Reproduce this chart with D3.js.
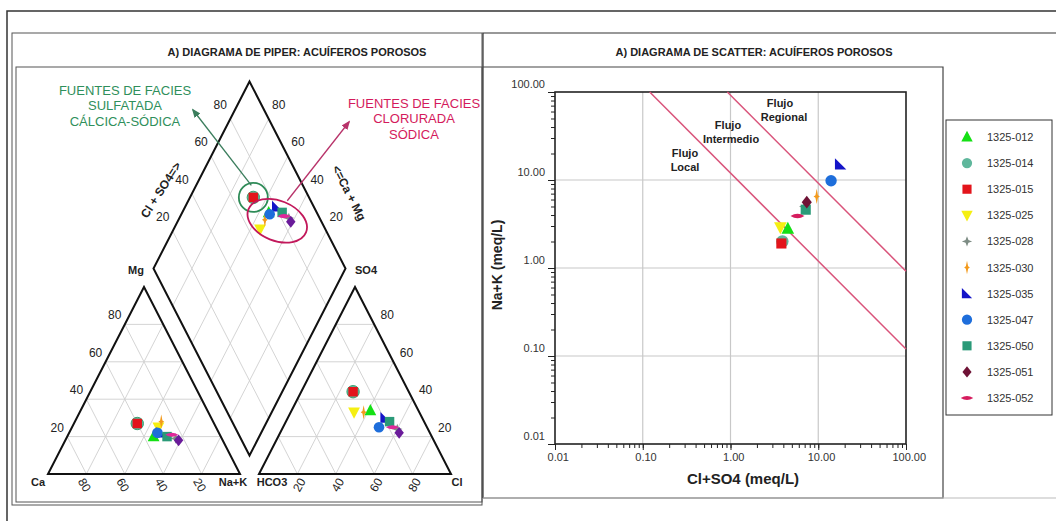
<!DOCTYPE html>
<html>
<head>
<meta charset="utf-8">
<script src="https://cdn.jsdelivr.net/npm/d3@7"></script>
<style>
  body { margin:0; background:#fff; }
  svg { display:block; font-family: Arial, "Liberation Sans", sans-serif; }
</style>
</head>
<body>
<div id="canvas"></div>
<script>
// samples, legend order
var samples = ["1325-012","1325-014","1325-015","1325-025","1325-028","1325-030",
               "1325-035","1325-047","1325-050","1325-051","1325-052"];

// cations (% meq)
var ca  = [35,40,40,30,24,27,30,32,28,23,25];
var mg  = [20,27,27,25,19,28,22,22,20,18,21];
var nak = [45,33,33,45,57,45,48,46,52,59,54];
// anions (% meq)
var hco3 = [25,29,29,34,16,29,19,25,18,16,18];
var so4  = [34,44,44,33,24,33,30,25,28,22,25];
var cl   = [41,27,27,33,60,38,51,50,54,62,57];

// scatter (meq/L)
var clSo4  = [4.5,3.9,3.8,3.7,7.0,9.6,18,14,7.2,7.4,5.8];
var naKmeq = [2.8,2.0,1.9,2.9,5.0,6.5,15,9.8,4.6,5.6,3.9];

var pctTicks = [20,40,60,80];
var logTicks = [0.01,0.1,1,10,100];
// flow lines, end points in meq/L
var localLine    = [[0.12,100],[100,0.12]];
var regionalLine = [[0.92,100],[100,0.92]];

// styles
var colors = ["#14e014","#5fb79c","#e3141b","#f5ef12","#7d8c84","#f39a1c",
              "#1414c8","#1e6edb","#2a9a78","#6e1235","#d61c5e"];
var piperColors = colors.slice();
piperColors[9] = "#6a1b9a"; piperColors[10] = "#e0289a";
var shapeOf = ["triUp","circle","square","triDown","star","spindle",
               "rightTri","circle","square","diamond","lens"];

function shape(fn){ return {draw: function(c, size){ fn(c, Math.sqrt(size)/2); }}; }
function poly(pts){
  return shape(function(c, r){
    pts.forEach(function(p, i){ i ? c.lineTo(p[0]*r, p[1]*r) : c.moveTo(p[0]*r, p[1]*r); });
    c.closePath();
  });
}
var symbols = {
  triUp:    poly([[0,-1.1],[1,0.8],[-1,0.8]]),
  triDown:  poly([[-1,-0.8],[1,-0.8],[0,1.1]]),
  square:   poly([[-0.8,-0.8],[0.8,-0.8],[0.8,0.8],[-0.8,0.8]]),
  diamond:  poly([[0,-1],[0.8,0],[0,1],[-0.8,0]]),
  rightTri: poly([[-0.9,-1],[0.9,0.8],[-0.9,0.8]]),
  star:     poly([[0,-0.9],[0.25,-0.25],[0.9,0],[0.25,0.25],[0,0.9],[-0.25,0.25],[-0.9,0],[-0.25,-0.25]]),
  spindle:  poly([[0,-1.2],[0.2,-0.2],[0.5,0],[0.2,0.2],[0,1.2],[-0.2,0.2],[-0.5,0],[-0.2,-0.2]]),
  circle:   shape(function(c, r){ c.moveTo(r*0.9,0); c.arc(0,0,r*0.9,0,2*Math.PI); }),
  lens:     shape(function(c, r){ c.moveTo(-r*1.1,0); c.quadraticCurveTo(0,-r*0.7,r*1.1,0);
                                  c.quadraticCurveTo(0,r*0.7,-r*1.1,0); c.closePath(); })
};
function sym(i, size){ return d3.symbol().type(symbols[shapeOf[i]]).size(size)(); }

var svg = d3.select("#canvas").append("svg")
    .attr("width", 1056)
    .attr("height", 521);

// outer frame
svg.append("path").attr("d", "M7,521V11H1056").attr("fill","none").attr("stroke","#333").attr("stroke-width",1.5);

// ---------- PIPER ----------
var piper = svg.append("g");
piper.append("rect").attr("x",12).attr("y",33).attr("width",470).attr("height",472)
    .attr("fill","#fff").attr("stroke","#555");
piper.append("rect").attr("x",16).attr("y",67).attr("width",466).attr("height",435)
    .attr("fill","none").attr("stroke","#555");
piper.append("text").attr("x",297).attr("y",56).attr("text-anchor","middle")
    .attr("font-size",11).attr("font-weight","bold").attr("fill","#222")
    .text("A) DIAGRAMA DE PIPER: ACUÍFEROS POROSOS");

var base = 474, side = 192, hgt = 187;
var catX = 48, anX = 259;
var pct = d3.scaleLinear().domain([0,100]).range([0,1]);
function tern(x0, right, top){ return [x0 + side*pct(right + top/2), base - hgt*pct(top)]; }
var gap = anX - catX - side;
var B = [catX + side + gap/2, base - hgt*gap/side];
// u = Cl+SO4 %, v = Ca+Mg %
function dia(u, v){ return [B[0] + side/2*(pct(u) - pct(v)), B[1] - hgt*(pct(u) + pct(v))]; }

var line = d3.line();
var grid = [];
[catX, anX].forEach(function(x0){
  pctTicks.forEach(function(t){
    grid.push([tern(x0,0,t), tern(x0,100-t,t)]);
    grid.push([tern(x0,t,0), tern(x0,t,100-t)]);
    grid.push([tern(x0,100-t,0), tern(x0,0,100-t)]);
  });
});
pctTicks.forEach(function(t){
  grid.push([dia(t,0), dia(t,100)]);
  grid.push([dia(0,t), dia(100,t)]);
});
piper.selectAll(".grid").data(grid).enter().append("path")
    .attr("d", line).attr("stroke","#cfcfcf").attr("stroke-width",0.9).attr("fill","none");

var outlines = [
  [tern(catX,0,0), tern(catX,100,0), tern(catX,0,100)],
  [tern(anX,0,0), tern(anX,100,0), tern(anX,0,100)],
  [dia(0,0), dia(100,0), dia(100,100), dia(0,100)]
];
piper.selectAll(".outline").data(outlines).enter().append("path")
    .attr("d", function(d){ return line(d) + "Z"; })
    .attr("fill","none").attr("stroke","#111").attr("stroke-width",2).attr("stroke-linejoin","miter");

function label(g, x, y, txt, opts){
  opts = opts || {};
  var t = g.append("text").attr("x",x).attr("y",y).attr("text-anchor","middle")
    .attr("dominant-baseline","central").attr("font-size",opts.size || 12)
    .attr("font-weight",opts.bold ? "bold" : "normal").attr("fill",opts.fill || "#222").text(txt);
  if (opts.rot) t.attr("transform","rotate(" + opts.rot + "," + x + "," + y + ")");
  return t;
}
pctTicks.forEach(function(t){
  var p = tern(catX,0,t);       label(piper, p[0]-10, p[1]-9, t);
  p = tern(anX,100-t,t);        label(piper, p[0]+13, p[1]-9, t);
  p = tern(catX,t,0);           label(piper, p[0]-2, 485, 100-t, {rot:60});
  p = tern(anX,t,0);            label(piper, p[0]+2, 485, t, {rot:-60});
  p = dia(t,100);               label(piper, p[0]-10, p[1]-14, t);
  p = dia(100,t);               label(piper, p[0]+10, p[1]-14, t);
});
label(piper, 38, 482, "Ca", {bold:true, size:11});
label(piper, 233, 482, "Na+K", {bold:true, size:11});
label(piper, 272, 482, "HCO3", {bold:true, size:11});
label(piper, 457, 482, "Cl", {bold:true, size:11});
label(piper, 136, 270, "Mg", {bold:true, size:11});
label(piper, 366, 270, "SO4", {bold:true, size:11});
label(piper, 161, 190, "Cl + SO4=>", {bold:true, size:12, rot:-57});
label(piper, 349, 193, "<=Ca + Mg", {bold:true, size:12, rot:63});

// points
var catPts = samples.map(function(s,i){ return tern(catX, nak[i], mg[i]); });
var anPts  = samples.map(function(s,i){ return tern(anX, cl[i], so4[i]); });
var diaPts = samples.map(function(s,i){ return dia(cl[i] + so4[i], ca[i] + mg[i]); });
[catPts, anPts, diaPts].forEach(function(pts){
  piper.selectAll(null).data(pts).enter().append("path")
    .attr("transform", function(d){ return "translate(" + d[0] + "," + d[1] + ")"; })
    .attr("d", function(d,i){ return sym(i, i == 1 ? 190 : 140); })
    .attr("fill", function(d,i){ return piperColors[i]; })
    .attr("stroke", function(d,i){ return i == 1 ? "#3aa070" : "none"; });
});

// annotations
var defs = svg.append("defs");
[["arrG","#3a7d5c"],["arrP","#b8336a"]].forEach(function(a){
  defs.append("marker").attr("id",a[0]).attr("viewBox","0 0 10 10").attr("refX",8).attr("refY",5)
    .attr("markerWidth",7).attr("markerHeight",7).attr("orient","auto")
    .append("path").attr("d","M0,1L10,5L0,9Z").attr("fill",a[1]);
});
var red = diaPts[2];
piper.append("circle").attr("cx",red[0]).attr("cy",red[1]).attr("r",14.5)
    .attr("fill","none").attr("stroke","#2e8b57").attr("stroke-width",1.8);
var cluster = diaPts.filter(function(d,i){ return i != 1 && i != 2; });
var cx = d3.mean(cluster, function(d){ return d[0]; }) + 1,
    cy = d3.mean(cluster, function(d){ return d[1]; }) + 4;
piper.append("ellipse").attr("cx",cx).attr("cy",cy).attr("rx",31).attr("ry",20)
    .attr("transform","rotate(22," + cx + "," + cy + ")")
    .attr("fill","none").attr("stroke","#c2185b").attr("stroke-width",1.8);
piper.append("line").attr("x1",red[0]-2).attr("y1",red[1]-12).attr("x2",193).attr("y2",110)
    .attr("stroke","#3a7d5c").attr("stroke-width",1.3).attr("marker-end","url(#arrG)");
piper.append("line").attr("x1",cx+10).attr("y1",cy-20).attr("x2",349).attr("y2",122)
    .attr("stroke","#b8336a").attr("stroke-width",1.3).attr("marker-end","url(#arrP)");
["FUENTES DE FACIES","SULFATADA","CÁLCICA-SÓDICA"].forEach(function(t,i){
  label(piper, 125, 90 + i*15.5, t, {size:13, fill:"#2f8f5b"});
});
["FUENTES DE FACIES","CLORURADA","SÓDICA"].forEach(function(t,i){
  label(piper, 414, 103 + i*15.5, t, {size:13, fill:"#d41a5c"});
});

// ---------- SCATTER ----------
var sc = svg.append("g");
sc.append("rect").attr("x",483).attr("y",33).attr("width",573).attr("height",465)
    .attr("fill","#fff").attr("stroke","none");
sc.append("path").attr("d","M483,498V33H1056").attr("fill","none").attr("stroke","#333").attr("stroke-width",1.2);
sc.append("path").attr("d","M483,67H943V498H483").attr("fill","none").attr("stroke","#444").attr("stroke-width",1.2);
sc.append("path").attr("d","M483,498H1056").attr("fill","none").attr("stroke","#bbb");
sc.append("text").attr("x",754).attr("y",56).attr("text-anchor","middle")
    .attr("font-size",11).attr("font-weight","bold").attr("fill","#222")
    .text("A) DIAGRAMA DE SCATTER: ACUÍFEROS POROSOS");

var x = d3.scaleLog().domain([0.01,100]).range([555,906]);
var y = d3.scaleLog().domain([0.01,100]).range([444,92]);
var fmt = d3.format(".2f");

var inner = logTicks.slice(1, -1);
sc.selectAll(".gx").data(inner).enter().append("line")
    .attr("x1", x).attr("x2", x).attr("y1", 92).attr("y2", 444)
    .attr("stroke","#c8c8c8").attr("stroke-width",1.2);
sc.selectAll(".gy").data(inner).enter().append("line")
    .attr("y1", y).attr("y2", y).attr("x1", 555).attr("x2", 906)
    .attr("stroke","#c8c8c8").attr("stroke-width",1.2);

// minor + major ticks
sc.append("g").attr("transform","translate(0,444)")
    .call(d3.axisBottom(x).tickValues(x.ticks()).tickSize(4).tickFormat(""));
sc.append("g").attr("transform","translate(555,0)")
    .call(d3.axisLeft(y).tickValues(y.ticks()).tickSize(4).tickFormat(""));
var ax = sc.append("g").attr("transform","translate(0,444)")
    .call(d3.axisBottom(x).tickValues(logTicks).tickSize(6).tickFormat(fmt));
var ay = sc.append("g").attr("transform","translate(555,0)")
    .call(d3.axisLeft(y).tickValues(logTicks).tickSize(7).tickFormat(fmt));
sc.selectAll(".domain").remove();
sc.selectAll(".tick line").attr("stroke","#222");
sc.selectAll(".tick text").attr("font-size",11).attr("fill","#333")
    .attr("font-family","Arial, 'Liberation Sans', sans-serif");
ax.selectAll(".tick text").attr("dx","0.25em");
ay.selectAll(".tick text").attr("dy","-0.4em");

sc.append("rect").attr("x",555).attr("y",92).attr("width",351).attr("height",352)
    .attr("fill","none").attr("stroke","#222").attr("stroke-width",1.6);

var flow = d3.line().x(function(d){ return x(d[0]); }).y(function(d){ return y(d[1]); });
[localLine, regionalLine].forEach(function(l){
  sc.append("path").attr("d", flow(l)).attr("fill","none")
    .attr("stroke","#d9537a").attr("stroke-width",1.5);
});
[[685,153,"Flujo"],[685,167,"Local"],[728,125,"Flujo"],[731,139,"Intermedio"],
 [780,103,"Flujo"],[784,117,"Regional"]].forEach(function(t){
  label(sc, t[0], t[1], t[2], {bold:true, size:11});
});

sc.selectAll(".pt").data(samples).enter().append("path")
    .attr("transform", function(d,i){ return "translate(" + x(clSo4[i]) + "," + y(naKmeq[i]) + ")"; })
    .attr("d", function(d,i){ return sym(i, i == 1 ? 190 : 160); })
    .attr("fill", function(d,i){ return colors[i]; });

label(sc, 497, 265, "Na+K (meq/L)", {bold:true, size:14, rot:-90});
label(sc, 743, 478, "Cl+SO4 (meq/L)", {bold:true, size:15});

// legend
var ly = d3.scaleLinear().domain([0, samples.length - 1]).range([137, 398]);
sc.append("rect").attr("x",946).attr("y",120).attr("width",106).attr("height",295)
    .attr("fill","#fff").attr("stroke","#333");
var leg = sc.selectAll(".leg").data(samples).enter().append("g")
    .attr("transform", function(d,i){ return "translate(967," + ly(i) + ")"; });
leg.append("path").attr("d", function(d,i){ return sym(i, 130); })
    .attr("fill", function(d,i){ return colors[i]; });
leg.append("text").attr("x",20).attr("dominant-baseline","central")
    .attr("font-size",11).attr("fill","#333").text(function(d){ return d; });
</script>
</body>
</html>
